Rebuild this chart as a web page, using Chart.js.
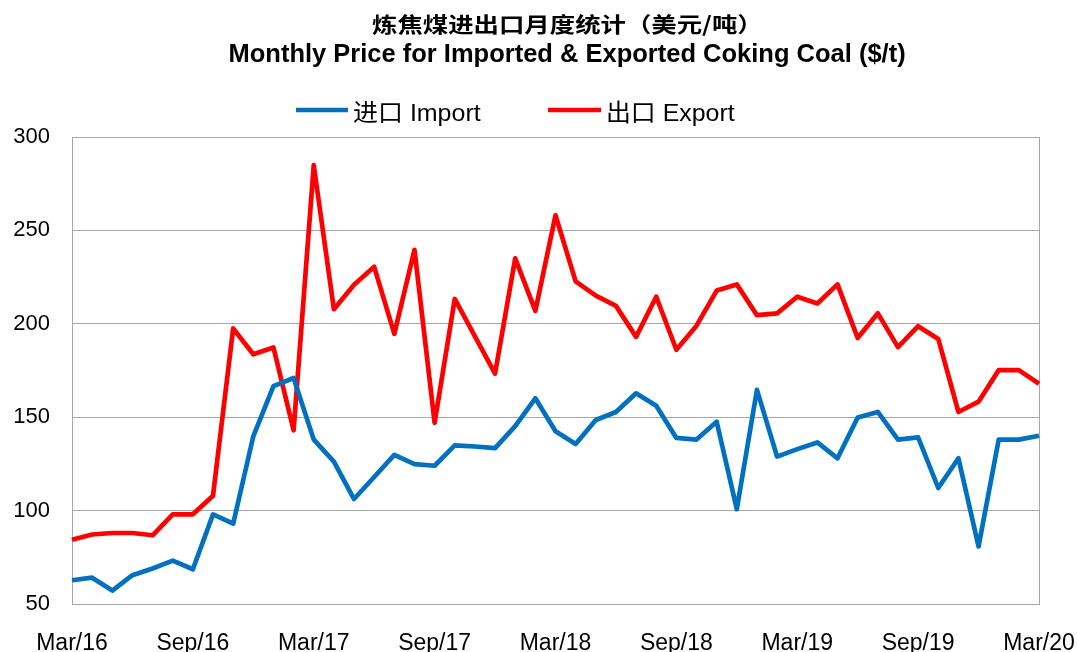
<!DOCTYPE html>
<html>
<head>
<meta charset="utf-8">
<script src="https://cdn.jsdelivr.net/npm/chart.js@4.4.1/dist/chart.umd.min.js"></script>
<style>
  html, body { margin: 0; padding: 0; background: #ffffff; }
  #wrap { width: 1077px; height: 652px; }
</style>
</head>
<body>
<div id="wrap"><canvas id="c" width="1077" height="652"></canvas></div>
<script>
const months = [
  'Mar/16','Apr/16','May/16','Jun/16','Jul/16','Aug/16','Sep/16','Oct/16','Nov/16','Dec/16',
  'Jan/17','Feb/17','Mar/17','Apr/17','May/17','Jun/17','Jul/17','Aug/17','Sep/17','Oct/17','Nov/17','Dec/17',
  'Jan/18','Feb/18','Mar/18','Apr/18','May/18','Jun/18','Jul/18','Aug/18','Sep/18','Oct/18','Nov/18','Dec/18',
  'Jan/19','Feb/19','Mar/19','Apr/19','May/19','Jun/19','Jul/19','Aug/19','Sep/19','Oct/19','Nov/19','Dec/19',
  'Jan/20','Feb/20','Mar/20'
];
const tickLabels = ['Mar/16','Sep/16','Mar/17','Sep/17','Mar/18','Sep/18','Mar/19','Sep/19','Mar/20'];
const importPrice = [
  62.7, 64.1, 57.2, 65.4, 69.0, 73.2, 68.6, 98.0, 93.0, 139.8,
  166.6, 171.0, 138.0, 126.2, 106.2, 118.0, 129.8, 124.9, 124.0, 134.9, 134.3, 133.4,
  145.2, 160.1, 142.5, 135.6, 148.5, 152.8, 162.8, 156.1, 138.9, 138.0, 147.6, 100.8,
  164.6, 128.9, 132.9, 136.5, 128.0, 149.8, 152.8, 138.0, 139.2, 112.1, 128.0, 80.8,
  138.0, 138.0, 140.1
];
const exportPrice = [
  84.4, 87.2, 88.0, 88.0, 86.8, 98.0, 98.0, 108.0, 197.5, 183.7,
  187.3, 143.0, 284.9, 207.8, 220.9, 230.5, 194.6, 239.6, 147.0, 213.3, 193.3, 173.3,
  235.0, 206.9, 258.1, 222.7, 215.1, 209.6, 193.0, 214.5, 186.1, 199.0, 217.8, 221.1,
  204.6, 205.6, 214.5, 210.9, 221.1, 192.4, 205.6, 187.5, 198.7, 191.9, 152.8, 158.3,
  175.2, 175.2, 167.9
];
const yTicks = [50, 100, 150, 200, 250, 300];
const titleZh = '炼焦煤进出口月度统计（美元/吨）';
const titleEn = 'Monthly Price for Imported & Exported Coking Coal ($/t)';
const seriesNames = ['进口 Import', '出口 Export'];
const seriesColors = ['#0070C0', '#FF0000'];

const GRID = '#a6a6a6';

function fitText(ctx, text, font, left, right, baseline) {
  ctx.save();
  ctx.font = font;
  ctx.textAlign = 'left';
  ctx.textBaseline = 'alphabetic';
  const m = ctx.measureText(text);
  const vis = m.actualBoundingBoxLeft + m.actualBoundingBoxRight;
  const sx = (right - left) / vis;
  ctx.translate(left + m.actualBoundingBoxLeft * sx, baseline);
  ctx.scale(sx, 1);
  ctx.fillStyle = '#000000';
  ctx.fillText(text, 0, 0);
  ctx.restore();
}

const overlay = {
  id: 'overlay',
  afterDraw(chart) {
    const ctx = chart.ctx;
    fitText(ctx, titleZh, 'bold 21px "Noto Sans CJK SC", sans-serif', 372, 747, 31.8);
    fitText(ctx, titleEn, 'bold 26px "Liberation Sans", Arial, sans-serif', 229.5, 905, 62.3);
    const items = [
      { l0: 296, l1: 348, t0: 353, t1: 481 },
      { l0: 548, l1: 601, t0: 608, t1: 735 }
    ];
    items.forEach((it, i) => {
      ctx.save();
      ctx.strokeStyle = seriesColors[i];
      ctx.lineWidth = 4.7;
      ctx.lineCap = 'butt';
      ctx.beginPath();
      ctx.moveTo(it.l0, 110);
      ctx.lineTo(it.l1, 110);
      ctx.stroke();
      ctx.restore();
      fitText(ctx, seriesNames[i], '24px "Liberation Sans", "Noto Sans CJK SC", sans-serif', it.t0, it.t1, 120.6);
    });
  }
};

new Chart(document.getElementById('c'), {
  type: 'line',
  data: {
    labels: months,
    datasets: [
      {
        label: seriesNames[0],
        data: importPrice,
        borderColor: seriesColors[0],
        backgroundColor: seriesColors[0],
        borderWidth: 4.7,
        borderJoinStyle: 'round',
        pointRadius: 0,
        pointHoverRadius: 0,
        tension: 0,
        fill: false
      },
      {
        label: seriesNames[1],
        data: exportPrice,
        borderColor: seriesColors[1],
        backgroundColor: seriesColors[1],
        borderWidth: 4.7,
        borderJoinStyle: 'round',
        pointRadius: 0,
        pointHoverRadius: 0,
        tension: 0,
        fill: false
      }
    ]
  },
  options: {
    responsive: false,
    animation: false,
    devicePixelRatio: 1,
    layout: { padding: { top: 137, right: 38, left: 0, bottom: 0 } },
    plugins: {
      legend: { display: false },
      title: { display: false },
      tooltip: { enabled: false }
    },
    scales: {
      x: {
        type: 'category',
        offset: false,
        grid: {
          drawTicks: false,
          color: (c) => (c.index === 0 || c.index === months.length - 1) ? GRID : 'rgba(0,0,0,0)',
          lineWidth: 1
        },
        border: { display: true, color: GRID, width: 1 },
        ticks: {
          autoSkip: false,
          maxRotation: 0,
          minRotation: 0,
          padding: 26,
          color: '#000000',
          font: { family: '"Liberation Sans", Arial, sans-serif', size: 23 },
          callback: function (value, index) {
            const lab = months[index];
            return tickLabels.includes(lab) ? lab : '';
          }
        },
        afterFit: (s) => { s.height = 48; s.paddingLeft = 0; s.paddingRight = 0; }
      },
      y: {
        min: 50,
        max: 300,
        grid: { drawTicks: false, color: GRID, lineWidth: 1 },
        border: { display: true, color: GRID, width: 1 },
        afterBuildTicks: (s) => { s.ticks = yTicks.map(v => ({ value: v })); },
        ticks: {
          padding: 22,
          color: '#000000',
          font: { family: '"Liberation Sans", Arial, sans-serif', size: 22 }
        },
        afterFit: (s) => { s.width = 72; s.paddingTop = 0; s.paddingBottom = 0; }
      }
    }
  },
  plugins: [overlay]
});
</script>
</body>
</html>
